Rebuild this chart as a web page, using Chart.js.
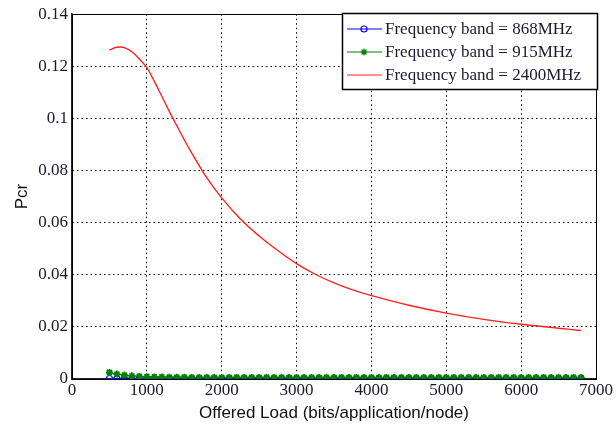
<!DOCTYPE html>
<html>
<head>
  <title>Pcr vs Offered Load</title>
  <script src="https://cdn.jsdelivr.net/npm/chart.js"></script>
  <style>
    body { margin: 0; background: #fff; }
    #wrap { width: 616px; height: 424px; }
  </style>
</head>
<body>

<div id="wrap">
  <canvas id="chartPcr" width="616" height="424"></canvas>
</div>

<script>
// offered load (bits/application/node), one sample every 100
const loads = [
  500, 600, 700, 800, 900, 1000, 1100, 1200, 1300, 1400, 1500, 1600, 1700, 1800, 1900, 2000,
  2100, 2200, 2300, 2400, 2500, 2600, 2700, 2800, 2900, 3000, 3100, 3200, 3300, 3400, 3500, 3600,
  3700, 3800, 3900, 4000, 4100, 4200, 4300, 4400, 4500, 4600, 4700, 4800, 4900, 5000, 5100, 5200,
  5300, 5400, 5500, 5600, 5700, 5800, 5900, 6000, 6100, 6200, 6300, 6400, 6500, 6600, 6700, 6800
];

const pcr868 = [
  0.0002, 0.00015, 0.00012, 0.0001, 0.0001, 0.0001, 0.0001, 0.0001, 0.0001, 0.0001, 0.0001, 0.0001, 0.0001, 0.0001, 0.0001, 0.0001,
  0.0001, 0.0001, 0.0001, 0.0001, 0.0001, 0.0001, 0.0001, 0.0001, 0.0001, 0.0001, 0.0001, 0.0001, 0.0001, 0.0001, 0.0001, 0.0001,
  0.0001, 0.0001, 0.0001, 0.0001, 0.0001, 0.0001, 0.0001, 0.0001, 0.0001, 0.0001, 0.0001, 0.0001, 0.0001, 0.0001, 0.0001, 0.0001,
  0.0001, 0.0001, 0.0001, 0.0001, 0.0001, 0.0001, 0.0001, 0.0001, 0.0001, 0.0001, 0.0001, 0.0001, 0.0001, 0.0001, 0.0001, 0.0001
];

const pcr915 = [
  0.0025, 0.0019, 0.0015, 0.0012, 0.001, 0.0009, 0.0008, 0.0008, 0.0007, 0.0007, 0.0007, 0.0006, 0.0006, 0.0006, 0.0006, 0.0006,
  0.0006, 0.0006, 0.0006, 0.0006, 0.0006, 0.0006, 0.0006, 0.0006, 0.0006, 0.0006, 0.0006, 0.0006, 0.0006, 0.0006, 0.0006, 0.0006,
  0.0006, 0.0006, 0.0006, 0.0006, 0.0006, 0.0006, 0.0006, 0.0006, 0.0006, 0.0006, 0.0006, 0.0006, 0.0006, 0.0006, 0.0006, 0.0006,
  0.0006, 0.0006, 0.0006, 0.0006, 0.0006, 0.0006, 0.0006, 0.0006, 0.0006, 0.0006, 0.0006, 0.0006, 0.0006, 0.0006, 0.0006, 0.0006
];

// 2400MHz curve, sampled where it bends
const loads2400 = [500, 600, 700, 800, 900, 1000, 1100, 1200, 1300, 1400, 1500, 1600, 1800, 2000, 2250, 2500, 2750, 3000, 3250, 3500, 3750, 4000, 4500, 5000, 5500, 6000, 6500, 6800];
const pcr2400   = [0.1263, 0.1273, 0.1272, 0.1256, 0.1228, 0.1195, 0.1142, 0.1085, 0.1027, 0.0972, 0.0918, 0.0867, 0.0773, 0.0695, 0.0614, 0.0549, 0.0493, 0.0443, 0.0402, 0.0369, 0.0342, 0.0320, 0.0283, 0.0253, 0.0229, 0.0210, 0.0195, 0.0186];

const xTicks = [0, 1000, 2000, 3000, 4000, 5000, 6000, 7000];
const yTicks = [0, 0.02, 0.04, 0.06, 0.08, 0.1, 0.12, 0.14];

const legendNames = ['Frequency band = 868MHz', 'Frequency band = 915MHz', 'Frequency band = 2400MHz'];

const pts = (xs, ys) => xs.map((x, i) => ({ x: x, y: ys[i] }));

// box round the axes plus the legend in the top right corner
const boxPlugin = {
  id: 'boxPlugin',
  afterDraw(chart) {
    const ctx = chart.ctx;
    const a = chart.chartArea;
    ctx.save();
    ctx.strokeStyle = '#000';
    ctx.lineWidth = 1;
    ctx.strokeRect(Math.round(a.left) + 0.5, Math.round(a.top) + 0.5, Math.round(a.right - a.left), Math.round(a.bottom - a.top));

    const lx = 342, ly = 13, lw = a.right - 342 + 1, lh = 76;
    ctx.fillStyle = '#fff';
    ctx.fillRect(lx, ly, lw, lh);
    ctx.lineWidth = 1.5;
    ctx.strokeRect(lx + 0.5, ly + 0.5, lw, lh);

    ctx.font = '17px "Liberation Serif", "Times New Roman", serif';
    ctx.textBaseline = 'middle';
    chart.data.datasets.forEach((ds, i) => {
      const y = ly + 16 + i * 23;
      ctx.strokeStyle = ds.borderColor;
      ctx.lineWidth = 1.2;
      ctx.beginPath();
      ctx.moveTo(lx + 5, y);
      ctx.lineTo(lx + 40, y);
      ctx.stroke();
      if (ds.pointRadius > 0) {
        ctx.fillStyle = ds.pointBackgroundColor;
        ctx.strokeStyle = ds.pointBorderColor;
        Chart.helpers.drawPoint(ctx, {
          pointStyle: ds.pointStyle, radius: ds.pointRadius, borderWidth: ds.pointBorderWidth, rotation: 0
        }, lx + 22, y);
      }
      ctx.fillStyle = '#1a1a2e';
      ctx.fillText(legendNames[i], lx + 43, y + 1);
    });
    ctx.restore();
  }
};

const tickFont = { family: '"Liberation Serif", "Times New Roman", serif', size: 17 };
const titleFont = { family: '"Liberation Sans", Arial, sans-serif', size: 17 };

const chartPcr = new Chart(document.getElementById('chartPcr').getContext('2d'), {
  type: 'line',
  data: {
    datasets: [
      {
        label: legendNames[0], data: pts(loads, pcr868), order: 1,
        borderColor: '#0000ff', borderWidth: 1.2, backgroundColor: '#0000ff',
        pointStyle: 'circle', pointRadius: 3, pointBorderWidth: 1.2, pointBackgroundColor: 'rgba(0,0,0,0)', pointBorderColor: '#0000ff'
      },
      {
        label: legendNames[1], data: pts(loads, pcr915), order: 0,
        borderColor: '#008000', borderWidth: 1.2, backgroundColor: '#008000',
        pointStyle: 'star', pointRadius: 3.5, pointBorderWidth: 1.8, pointBackgroundColor: '#008000', pointBorderColor: '#008000'
      },
      {
        label: legendNames[2], data: pts(loads2400, pcr2400), order: 2,
        borderColor: '#ff2020', borderWidth: 1.4, pointRadius: 0, tension: 0.4
      }
    ]
  },
  options: {
    responsive: false,
    animation: false,
    layout: { padding: { top: 12, right: 20, left: 0, bottom: 0 } },
    plugins: { legend: { display: false }, tooltip: { enabled: false } },
    scales: {
      x: {
        type: 'linear', min: 0, max: 7000,
        afterBuildTicks: s => { s.ticks = xTicks.map(v => ({ value: v })); },
        afterFit: s => { s.height = 45; },
        ticks: { font: tickFont, color: '#1a1a2e', padding: 1, maxRotation: 0, callback: v => String(v) },
        grid: { color: '#000', lineWidth: 1, drawTicks: false },
        border: { color: '#222', width: 1.5, dash: [1.5, 3] },
        title: { display: true, text: 'Offered Load (bits/application/node)', font: titleFont, color: '#111', padding: { top: 0, bottom: 0 } }
      },
      y: {
        min: 0, max: 0.14,
        afterBuildTicks: s => { s.ticks = yTicks.map(v => ({ value: v })); },
        afterFit: s => { s.width = 72; },
        ticks: { font: tickFont, color: '#1a1a2e', padding: 4, callback: v => String(+v.toFixed(2)) },
        grid: { color: '#000', lineWidth: 1, drawTicks: false },
        border: { color: '#222', width: 1.5, dash: [1.5, 3] },
        title: { display: true, text: 'Pcr', font: titleFont, color: '#111', padding: { top: 12, bottom: 0 } }
      }
    }
  },
  plugins: [boxPlugin]
});
</script>

</body>
</html>
